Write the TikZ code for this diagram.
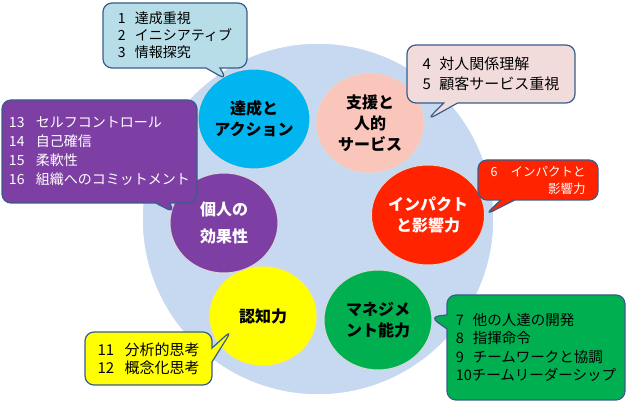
\documentclass[tikz,border=0pt]{standalone}
\usepackage{fontspec}
\setmainfont{Noto Sans CJK JP}
\usetikzlibrary{shapes.geometric,shapes.callouts}

\definecolor{ringblue}{RGB}{198,217,241}
\definecolor{skillcyan}{RGB}{0,181,240}
\definecolor{skillpink}{RGB}{250,197,186}
\definecolor{skillred}{RGB}{255,35,0}
\definecolor{skillgreen}{RGB}{0,176,80}
\definecolor{skillyellow}{RGB}{255,255,0}
\definecolor{skillpurple}{RGB}{125,63,163}
\definecolor{notecyan}{RGB}{183,222,232}
\definecolor{notepink}{RGB}{242,220,219}
\definecolor{noteline}{RGB}{56,93,138}

% number + item text
\newcommand{\numitem}[3][17pt]{\makebox[#1][l]{#2}#3}

\tikzset{
    skill/.style={ellipse, minimum width=108pt, minimum height=100pt, inner sep=0pt,
        draw=white!85!black, line width=1pt, align=center,
        font=\fontsize{16}{21}\selectfont\bfseries},
    note/.style={rectangle callout, rounded corners=9pt, draw=noteline, line width=1.2pt,
        align=left, inner sep=0pt, callout pointer width=14pt,
        font=\fontsize{14}{18}\selectfont}
}

\begin{document}
\begin{tikzpicture}[x=1pt,y=-1pt]
    \useasboundingbox (0,0) rectangle (630,403);

    % Background ring
    \node[circle, minimum size=352pt, fill=ringblue, draw=white, line width=1.5pt] (ring) at (318,219) {};

    % Competency groups
    \node[skill, fill=skillcyan] (action) at (254,119) {達成と\\アクション};
    \node[skill, fill=skillpink] (service) at (370,123) {支援と\\人的\\サービス};
    \node[skill, fill=skillred, text=white] (impact) at (428,215) {インパクト\\と影響力};
    \node[skill, fill=skillgreen] (manage) at (378,320) {マネジメ\\ント能力};
    \node[skill, fill=skillyellow] (cognit) at (263,316) {認知力};
    \node[skill, fill=skillpurple, text=white, font=\fontsize{16}{27}\selectfont\bfseries] (personal) at (224,223) {個人の\\効果性};

    % Pointer tips
    \coordinate (tipA) at (227,80);
    \coordinate (tipB) at (427,120);
    \coordinate (tipC) at (485,215);
    \coordinate (tipD) at (430,317);
    \coordinate (tipE) at (232,330);
    \coordinate (tipF) at (175,213);

    % Callouts
    \node[note, fill=notecyan, minimum width=144pt, minimum height=65pt,
          callout absolute pointer={(tipA)}, font=\fontsize{14}{17}\selectfont] (noteA) at (175,35.5)
        {\numitem{1}{達成重視}\\ \numitem{2}{イニシアティブ}\\ \numitem{3}{情報探究}};
    \node[note, fill=notepink, minimum width=168pt, minimum height=58pt,
          callout absolute pointer={(tipB)}, font=\fontsize{15}{20}\selectfont] (noteB) at (491,74)
        {\numitem{4}{対人関係理解}\\ \numitem{5}{顧客サービス重視}};
    \node[note, fill=skillred, text=white, minimum width=120pt, minimum height=40pt, align=right,
          callout absolute pointer={(tipC)}, font=\fontsize{12.5}{17}\selectfont] (noteC) at (538,180)
        {\numitem[20pt]{6}{インパクトと}\\ 影響力};
    \node[note, fill=skillgreen, minimum width=178pt, minimum height=105pt,
          callout absolute pointer={(tipD)}, font=\fontsize{14.5}{18.3}\selectfont] (noteD) at (536,347.5)
        {\numitem{7}{他の人達の開発}\\ \numitem{8}{指揮命令}\\ \numitem{9}{チームワークと協調}\\ 10チームリーダーシップ};
    \node[note, fill=skillyellow, minimum width=127pt, minimum height=53pt,
          callout absolute pointer={(tipE)}, font=\fontsize{15}{18}\selectfont] (noteE) at (148.5,358.5)
        {\numitem[27pt]{11}{分析的思考}\\ \numitem[27pt]{12}{概念化思考}};
    \node[note, fill=skillpurple, text=white, minimum width=195pt, minimum height=103pt,
          callout absolute pointer={(tipF)}, font=\fontsize{14}{19}\selectfont] (noteF) at (99.5,151.5)
        {\numitem[27pt]{13}{セルフコントロール}\\ \numitem[27pt]{14}{自己確信}\\
         \numitem[27pt]{15}{柔軟性}\\ \numitem[27pt]{16}{組織へのコミットメント}};
\end{tikzpicture}
\end{document}
